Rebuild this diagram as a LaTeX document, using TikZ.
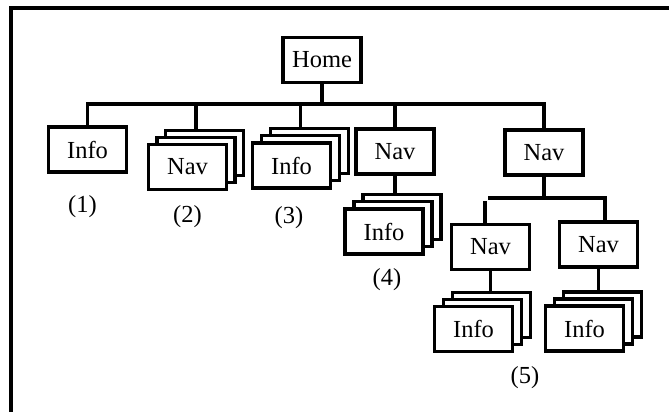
\documentclass[tikz,border=0pt]{standalone}
\usepackage{fontspec}
\setmainfont{Liberation Serif}
\begin{document}
\begin{tikzpicture}[x=1pt,y=-1pt,line width=3.3pt,
  box/.style={draw,fill=white,minimum width=78pt,minimum height=45pt,inner sep=0pt,font=\fontsize{24.5}{28}\selectfont},
  lbl/.style={font=\fontsize{24.5}{28}\selectfont,inner sep=0pt}]
\useasboundingbox (0,0) rectangle (669,412);
\draw (11,412) -- (11,8) -- (669,8);
% boxes
\node[box] (home) at (322,60) {Home};
\node[box] (info1) at (87.5,149.5) {Info};
\node[box] (nav2c) at (204.5,153) {};
\node[box] (nav2b) at (196,160) {};
\node[box] (nav2) at (187.5,167) {Nav};
\node[box] (info3c) at (309.5,151) {};
\node[box] (info3b) at (300.5,158) {};
\node[box] (info3) at (291.5,165.5) {Info};
\node[box] (nav4) at (395,151.5) {Nav};
\node[box] (info4c) at (402,217) {};
\node[box] (info4b) at (393,224) {};
\node[box] (info4) at (384,231.5) {Info};
\node[box] (nav5) at (544,152.5) {Nav};
\node[box] (nav5a) at (490.5,247) {Nav};
\node[box] (nav5b) at (598.5,244.5) {Nav};
\node[box] (info5ac) at (491.5,315) {};
\node[box] (info5ab) at (482.5,322) {};
\node[box] (info5a) at (473.5,329) {Info};
\node[box] (info5bc) at (602.5,314.5) {};
\node[box] (info5bb) at (593.5,321.5) {};
\node[box] (info5b) at (584.5,328.5) {Info};
% labels
\node[lbl] (l1) at (82.5,207) {(1)};
\node[lbl] (l2) at (187.5,217) {(2)};
\node[lbl] (l3) at (289,218) {(3)};
\node[lbl] (l4) at (387,280) {(4)};
\node[lbl] (l5) at (525,378) {(5)};
% connectors
\coordinate (bus) at (0,104);
\draw (info1.north) -- (info1.north |- bus) -- (nav5.north |- bus) -- (nav5.north);
\draw (home.south) -- (home.south |- bus);
\draw (nav2b.north |- nav2c.north) -- (nav2b.north |- bus);
\draw (info3b.north |- info3c.north) -- (info3b.north |- bus);
\draw (nav4.north) -- (nav4.north |- bus);
\draw (nav4.south) -- (nav4.south |- info4c.north);
\coordinate (sub) at (0,198);
\coordinate (sL) at (488,198);
\coordinate (sR) at (605,198);
\draw (nav5.south) -- (nav5.south |- sub);
\draw (sL) -- (sR) -- (sR |- nav5b.north);
\coordinate (sLs) at (485,201);
\draw (sLs) -- (sLs |- nav5a.north);
\draw (nav5a.south) -- (nav5a.south |- info5ac.north);
\draw (nav5b.south) -- (nav5b.south |- info5bc.north);
\end{tikzpicture}
\end{document}
